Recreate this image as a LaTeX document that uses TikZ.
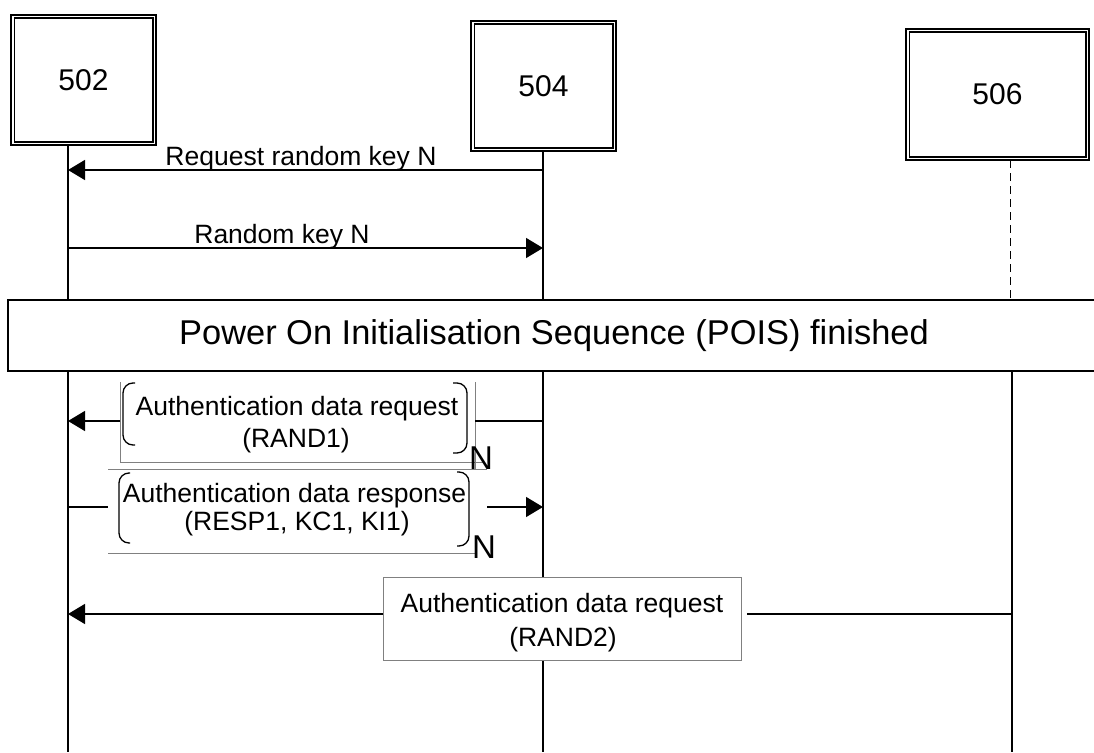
\documentclass[tikz,border=0pt]{standalone}
\usepackage{fontspec}
\setmainfont{Liberation Sans}
\usetikzlibrary{arrows.meta}
\begin{document}
\begin{tikzpicture}[x=1pt,y=-1pt,
  entity/.style={draw, line width=1.2pt, inner sep=0pt, font=\fontsize{30}{36}\selectfont},
  innerbox/.style={line width=1.8pt},
  life/.style={line width=1.5pt},
  msg/.style={line width=1.5pt, -{Triangle[length=17pt,width=20pt]}},
  plainline/.style={line width=1.3pt},
  framel/.style={draw=gray, line width=0.8pt},
  brk/.style={line width=1.3pt, rounded corners=10pt},
  lbl/.style={font=\fontsize{26.5}{32}\selectfont, inner sep=0pt, anchor=base},
  bigN/.style={font=\fontsize{33}{36}\selectfont, inner sep=0pt},
  banner/.style={draw, line width=1.3pt, fill=white, inner sep=0pt, font=\fontsize{34.4}{40}\selectfont},
  msgbox/.style={draw=gray, line width=0.9pt, fill=white, inner sep=0pt}
]
\useasboundingbox (0,0) rectangle (1094,752);
\fill[white] (0,0) rectangle (1094,752);

% entity boxes
\node[entity, minimum width=145pt, minimum height=130pt] (b502) at (83.5,80) {502};
\draw[innerbox] ([shift={(4,4)}]b502.north west) rectangle ([shift={(-4,-4)}]b502.south east);
\node[entity, minimum width=145pt, minimum height=130pt] (b504) at (543.5,86) {504};
\draw[innerbox] ([shift={(4,4)}]b504.north west) rectangle ([shift={(-4,-4)}]b504.south east);
\node[entity, minimum width=183pt, minimum height=131pt] (b506) at (997.5,94.5) {506};
\draw[innerbox] ([shift={(4,4)}]b506.north west) rectangle ([shift={(-4,-4)}]b506.south east);

% lifelines
\coordinate (L2s) at (68,145);  \coordinate (L2e) at (68,752);
\coordinate (L4s) at (543,151); \coordinate (L4e) at (543,752);
\coordinate (L6s) at (1010,160); \coordinate (L6m) at (1010,300);
\coordinate (L6t) at (1012,371); \coordinate (L6e) at (1012,752);
\draw[life] (L2s) -- (L2e);
\draw[life] (L4s) -- (L4e);
\draw[line width=1pt, dash pattern=on 8pt off 5pt] (L6s) -- (L6m);
\draw[life] (L6t) -- (L6e);

% messages 1 and 2
\coordinate (a1s) at (543,170); \coordinate (a1e) at (68,170);
\draw[msg] (a1s) -- (a1e);
\node[lbl] (t1) at (301,165) {Request random key N};
\coordinate (a2s) at (68,248); \coordinate (a2e) at (543,248);
\draw[msg] (a2s) -- (a2e);
\node[lbl] (t2) at (282,243) {Random key N};

% POIS banner
\node[banner, minimum width=1092pt, minimum height=71pt] (pois) at (554,335.5) {Power On Initialisation Sequence (POIS) finished};

% Authentication data request (RAND1), repeated N
\coordinate (f1a) at (120,382); \coordinate (f1b) at (120,462); \coordinate (f1c) at (483,462);
\coordinate (f1d) at (475,382); \coordinate (f1e) at (475,469);
\draw[framel] (f1a) -- (f1b) -- (f1c);
\draw[framel] (f1d) -- (f1e);
\coordinate (m3a) at (543,421); \coordinate (m3b) at (475,421);
\coordinate (m3c) at (120,421); \coordinate (m3d) at (68,421);
\draw[plainline] (m3a) -- (m3b);
\draw[msg] (m3c) -- (m3d);
\draw[brk] (135,383) -- (123,383) -- (123,445) -- (135,445);
\draw[brk] (453,383) -- (467,383) -- (467,453) -- (453,453);
\node[lbl] (t3a) at (297,415) {Authentication data request};
\node[lbl] (t3b) at (296,447) {(RAND1)};
\node[bigN] (n1) at (481,458) {N};

% Authentication data response, repeated N
\coordinate (f2a) at (108,469); \coordinate (f2b) at (487,469);
\coordinate (f2c) at (108,553); \coordinate (f2d) at (477,553);
\draw[framel] (f2a) -- (f2b);
\draw[framel] (f2c) -- (f2d);
\coordinate (m4a) at (68,507); \coordinate (m4b) at (108,507);
\coordinate (m4c) at (487,507); \coordinate (m4d) at (543,507);
\draw[plainline] (m4a) -- (m4b);
\draw[msg] (m4c) -- (m4d);
\draw[brk] (130,473) -- (119,473) -- (119,543) -- (130,543);
\draw[brk] (457,472) -- (469,472) -- (469,546) -- (457,546);
\node[lbl] (t4a) at (294.5,502) {Authentication data response};
\node[lbl] (t4b) at (297,530) {(RESP1, KC1, KI1)};
\node[bigN] (n2) at (484,547) {N};

% Authentication data request (RAND2)
\node[msgbox, minimum width=358pt, minimum height=83pt] (rbox) at (562,618.5) {};
\coordinate (m5a) at (1012,614); \coordinate (m5b) at (747,614);
\coordinate (m5c) at (383,614); \coordinate (m5d) at (68,614);
\draw[plainline] (m5a) -- (m5b);
\draw[msg] (m5c) -- (m5d);
\node[lbl] (t5a) at (562,612) {Authentication data request};
\node[lbl] (t5b) at (563,646) {(RAND2)};
\end{tikzpicture}
\end{document}
